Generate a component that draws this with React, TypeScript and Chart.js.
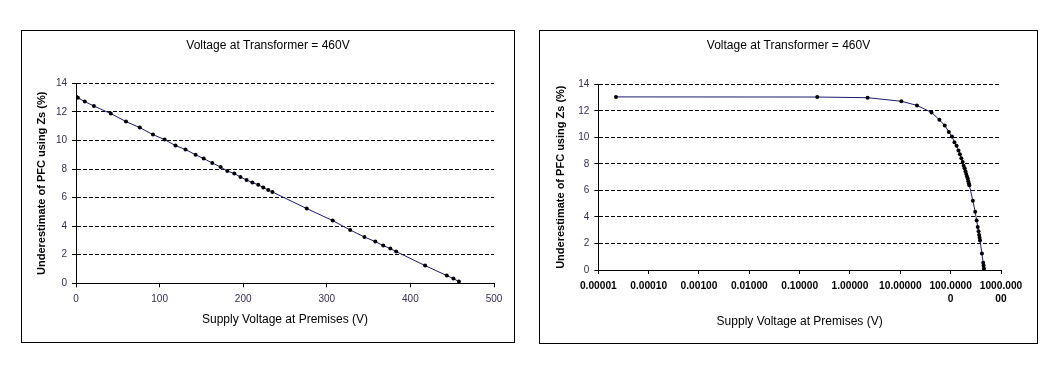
import React, { useEffect, useRef } from "react";
import { Chart, registerables } from "chart.js";

Chart.register(...registerables);

// ---------------- data ----------------
const chartTitle = "Voltage at Transformer = 460V";
const xAxisTitle = "Supply Voltage at Premises (V)";
const yAxisTitle = "Underestimate of PFC using Zs (%)";

const supplyVoltage = [
  0.0000224, 0.224, 2.24, 10.5, 21.4, 41.6, 59.8, 76.3, 92, 106, 119, 131, 143,
  152.7, 163, 173, 181, 189.4, 196.7, 204, 211, 218, 224, 230, 235, 276, 307,
  328, 345, 358, 367.5, 376, 383, 417.6, 443.5, 451.5, 458,
];
const underestimatePct = [
  13.05, 13.04, 12.99, 12.72, 12.41, 11.88, 11.32, 10.9, 10.41, 10.06, 9.64,
  9.36, 9.0, 8.73, 8.42, 8.14, 7.86, 7.68, 7.44, 7.23, 7.05, 6.9, 6.7, 6.53,
  6.39, 5.23, 4.39, 3.73, 3.24, 2.92, 2.64, 2.43, 2.22, 1.24, 0.54, 0.33, 0.12,
];

const yTickValues = [0, 2, 4, 6, 8, 10, 12, 14];
const linearXTickValues = [0, 100, 200, 300, 400, 500];
const logXTickValues = [0.00001, 0.0001, 0.001, 0.01, 0.1, 1, 10, 100, 1000];
const logXTickLabels: (string | string[])[] = [
  "0.00001",
  "0.00010",
  "0.00100",
  "0.01000",
  "0.10000",
  "1.00000",
  "10.00000",
  ["100.0000", "0"],
  ["1000.000", "00"],
];

// ---------------- styling ----------------
const FONT = "'Liberation Sans', Arial, Helvetica, sans-serif";
const TICK_COLOR = "#3a2d4f";
const LINE_COLOR = "#1a1a70";

type Geo = {
  yAxisWidth: number;
  yTitlePad: number;
  rightPad: number;
  xAxisHeight: number;
  xTitlePadBottom: number;
  titlePadTop: number;
  titlePadBottom: number;
};

function buildConfig(kind: "linear" | "log", geo: Geo): any {
  const points = supplyVoltage.map((v, i) => ({ x: v, y: underestimatePct[i] }));

  const xScale: any =
    kind === "linear"
      ? {
          type: "linear",
          min: 0,
          max: 500,
          afterBuildTicks: (s: any) => {
            s.ticks = linearXTickValues.map((v) => ({ value: v }));
          },
          ticks: {
            font: { family: FONT, size: 10 },
            color: TICK_COLOR,
            padding: 6,
            maxRotation: 0,
            autoSkip: false,
          },
        }
      : {
          type: "logarithmic",
          min: 0.00001,
          max: 1000,
          afterBuildTicks: (s: any) => {
            s.ticks = logXTickValues.map((v) => ({ value: v }));
          },
          ticks: {
            callback: (_v: any, i: number) => logXTickLabels[i],
            font: { family: FONT, size: 10.2, weight: "bold", lineHeight: 1.25 },
            color: "#000",
            padding: 6,
            maxRotation: 0,
            autoSkip: false,
          },
        };

  Object.assign(xScale, {
    position: "bottom",
    afterFit: (s: any) => {
      s.height = geo.xAxisHeight;
    },
    grid: {
      display: true,
      drawOnChartArea: false,
      drawTicks: true,
      tickLength: 4,
      color: "#000",
      tickColor: "#000",
      tickBorderDash: [],
    },
    border: { display: true, color: "#000", width: 1 },
    title: {
      display: true,
      text: xAxisTitle,
      font: { family: FONT, size: 12 },
      color: "#000",
      padding: { top: 0, bottom: geo.xTitlePadBottom },
    },
  });

  return {
    type: "scatter",
    data: {
      datasets: [
        {
          data: points,
          showLine: true,
          borderColor: LINE_COLOR,
          borderWidth: 1,
          tension: 0,
          pointRadius: 2,
          pointBackgroundColor: "#000",
          pointBorderColor: "#000",
          pointBorderWidth: 0,
        },
      ],
    },
    options: {
      animation: false,
      responsive: false,
      maintainAspectRatio: false,
      devicePixelRatio: 1,
      layout: { padding: { left: 0, right: 0, top: 0, bottom: 0 } },
      plugins: {
        legend: { display: false },
        tooltip: { enabled: false },
        title: {
          display: true,
          text: chartTitle,
          font: { family: FONT, size: 12, weight: "normal" },
          color: "#000",
          padding: { top: geo.titlePadTop, bottom: geo.titlePadBottom },
        },
      },
      scales: {
        x: xScale,
        y: {
          type: "linear",
          position: "left",
          min: 0,
          max: 14,
          afterBuildTicks: (s: any) => {
            s.ticks = yTickValues.map((v) => ({ value: v }));
          },
          afterFit: (s: any) => {
            s.width = geo.yAxisWidth;
          },
          ticks: {
            font: { family: FONT, size: 10 },
            color: TICK_COLOR,
            padding: 5,
          },
          grid: {
            display: true,
            color: "#000",
            lineWidth: 1,
            drawTicks: true,
            tickLength: 4,
            tickColor: "#000",
            tickBorderDash: [],
          },
          border: { display: true, color: "#000", width: 1, dash: [4, 2] },
          title: {
            display: true,
            text: yAxisTitle,
            font: { family: FONT, size: 11, weight: "bold" },
            color: "#000",
            padding: { top: geo.yTitlePad, bottom: 0 },
          },
        },
        spacer: {
          type: "linear",
          position: "right",
          min: 0,
          max: 1,
          afterFit: (s: any) => {
            s.width = geo.rightPad;
          },
          ticks: { display: false },
          grid: { display: false, drawTicks: false },
          border: { display: false },
          title: { display: false },
        },
      },
    },
  };
}

function ChartBox(props: {
  left: number;
  top: number;
  width: number;
  height: number;
  kind: "linear" | "log";
  geo: Geo;
}) {
  const ref = useRef<HTMLCanvasElement | null>(null);
  const cw = props.width - 2;
  const ch = props.height - 2;
  useEffect(() => {
    if (!ref.current) return;
    const chart = new Chart(ref.current, buildConfig(props.kind, props.geo));
    return () => chart.destroy();
  }, []);
  return (
    <div
      style={{
        position: "absolute",
        left: props.left,
        top: props.top,
        width: props.width,
        height: props.height,
        border: "1px solid #000",
        boxSizing: "border-box",
        background: "#fff",
      }}
    >
      <canvas
        ref={ref}
        width={cw}
        height={ch}
        style={{ display: "block", width: cw, height: ch }}
      />
    </div>
  );
}

export default function App() {
  return (
    <div
      style={{
        position: "fixed",
        left: 0,
        top: 0,
        width: 1052,
        height: 385,
        background: "#fff",
        overflow: "hidden",
      }}
    >
      <ChartBox
        left={21}
        top={30}
        width={494}
        height={313}
        kind="linear"
        geo={{
          yAxisWidth: 54,
          yTitlePad: 13.4,
          rightPad: 20,
          xAxisHeight: 58.7,
          xTitlePadBottom: 14.8,
          titlePadTop: 7.5,
          titlePadBottom: 30.4,
        }}
      />
      <ChartBox
        left={539}
        top={30}
        width={499}
        height={314}
        kind="log"
        geo={{
          yAxisWidth: 58.3,
          yTitlePad: 14.1,
          rightPad: 36,
          xAxisHeight: 73,
          xTitlePadBottom: 13.8,
          titlePadTop: 7.5,
          titlePadBottom: 31.4,
        }}
      />
    </div>
  );
}
